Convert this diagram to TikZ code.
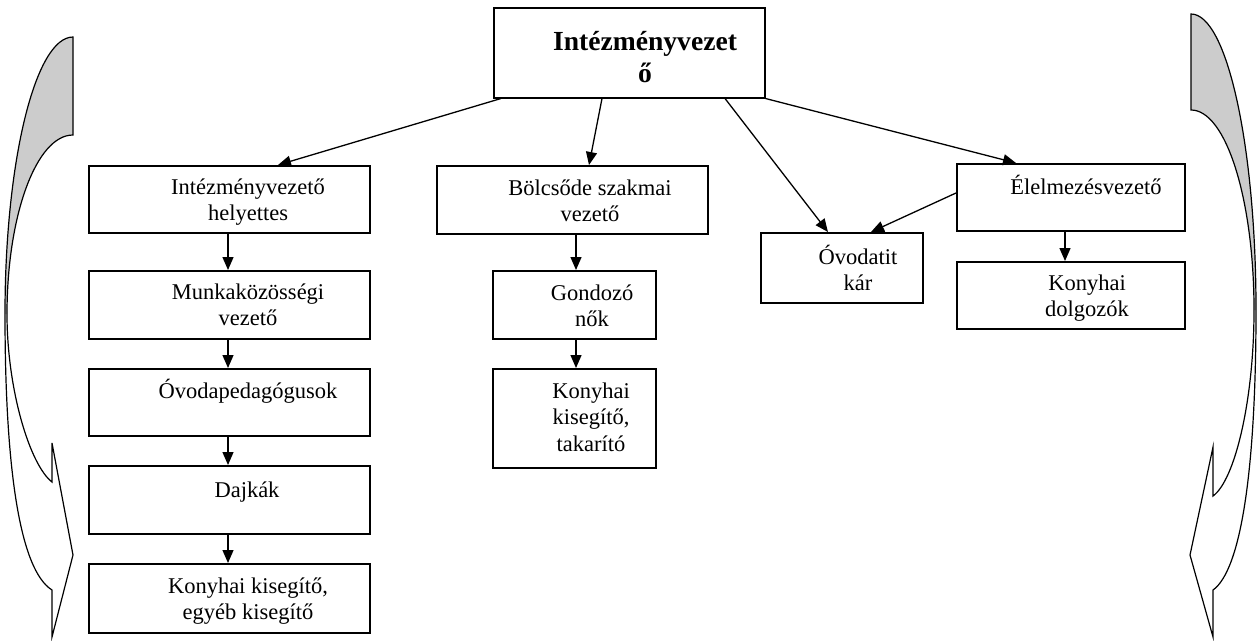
\documentclass[tikz,border=0pt]{standalone}
\usepackage{fontspec}
\setmainfont{Liberation Serif}
\usetikzlibrary{arrows.meta}
\newcommand\mylines[1]{\begin{tabular}[t]{@{}c@{}}#1\end{tabular}}
\begin{document}
\begin{tikzpicture}[x=1pt,y=-1pt,
  box/.style={draw,line width=1.5pt,inner sep=0pt,anchor=north west},
  txt/.style={anchor=base,inner sep=0pt,font=\fontsize{22.5}{26.5}\selectfont},
  ttl/.style={anchor=base,inner sep=0pt,font=\fontsize{27.6}{32}\selectfont\bfseries},
  arr/.style={line width=1.3pt,-{Triangle[length=13pt,width=11pt]}},
  curv/.style={draw,line width=1.2pt,line join=miter}]
\useasboundingbox (0,0) rectangle (1257,640);

% boxes
\node[box,minimum width=271pt,minimum height=90pt] (top) at (493,7) {};
\node[box,minimum width=281pt,minimum height=67pt] (b1) at (88,165) {};
\node[box,minimum width=281pt,minimum height=68pt] (b2) at (88,270) {};
\node[box,minimum width=281pt,minimum height=67pt] (b3) at (88,368) {};
\node[box,minimum width=281pt,minimum height=68pt] (b4) at (88,465) {};
\node[box,minimum width=281pt,minimum height=69pt] (b5) at (88,563) {};
\node[box,minimum width=271pt,minimum height=68pt] (m1) at (436,165) {};
\node[box,minimum width=163pt,minimum height=68pt] (m2) at (492,270) {};
\node[box,minimum width=163pt,minimum height=99pt] (m3) at (492,368) {};
\node[box,minimum width=162pt,minimum height=70pt] (r0) at (760,232) {};
\node[box,minimum width=228pt,minimum height=67pt] (r1) at (956,163) {};
\node[box,minimum width=228pt,minimum height=67pt] (r2) at (956,261) {};

% texts
\node[ttl] (ttop) at (645,50) {\begin{tabular}[t]{@{}c@{}}Intézményvezet\\ő\end{tabular}};
\node[txt] (tb1) at (248,194) {\mylines{Intézményvezető\\helyettes}};
\node[txt] (tb2) at (248,299) {\mylines{Munkaközösségi\\vezető}};
\node[txt] (tb3) at (248,398) {Óvodapedagógusok};
\node[txt] (tb4) at (247,497) {Dajkák};
\node[txt] (tb5) at (248,593) {\mylines{Konyhai kisegítő,\\egyéb kisegítő}};
\node[txt] (tm1) at (590,195) {\mylines{Bölcsőde szakmai\\vezető}};
\node[txt] (tm2) at (592,300) {\mylines{Gondozó\\nők}};
\node[txt] (tm3) at (591,398) {\mylines{Konyhai\\kisegítő,\\takarító}};
\node[txt] (tr0) at (858,264) {\mylines{Óvodatit\\kár}};
\node[txt] (tr1) at (1086,194) {Élelmezésvezető};
\node[txt] (tr2) at (1087,290) {\mylines{Konyhai\\dolgozók}};

% connectors
\draw[arr] ([xshift=8pt]top.south west) -- ([xshift=190pt]b1.north west);
\draw[arr] ([xshift=109pt]top.south west) -- ([xshift=153pt]m1.north west);
\draw[arr] ([xshift=232pt]top.south west) -- ([xshift=68pt]r0.north west);
\draw[arr] (top.south east) -- ([xshift=60pt]r1.north west);
\draw[arr] ([yshift=-30pt]r1.north west) -- ([xshift=111pt]r0.north west);
\draw[arr] ([xshift=140pt]b1.south west) -- ([xshift=140pt]b2.north west);
\draw[arr] ([xshift=140pt]b2.south west) -- ([xshift=140pt]b3.north west);
\draw[arr] ([xshift=140pt]b3.south west) -- ([xshift=140pt]b4.north west);
\draw[arr] ([xshift=140pt]b4.south west) -- ([xshift=140pt]b5.north west);
\draw[arr] ([xshift=140pt]m1.south west) -- ([xshift=84pt]m2.north west);
\draw[arr] ([xshift=84pt]m2.south west) -- ([xshift=84pt]m3.north west);
\draw[arr] ([xshift=109pt]r1.south west) -- ([xshift=109pt]r2.north west);

% left curved arrow
\fill[gray!40] (73,37) .. controls (35.4,37) and (5,161) .. (5,314)
  -- (7,314) .. controls (7,215) and (36.5,135) .. (73,135) -- cycle;
\path[curv] (73,37) .. controls (35.4,37) and (5,161) .. (5,314)
  .. controls (5,470) and (20,570) .. (52,590)
  -- (52,637) -- (73,555) -- (52,443) -- (52,482)
  .. controls (30,465) and (7,390) .. (7,314)
  .. controls (7,215) and (36.5,135) .. (73,135) -- cycle;

% right curved arrow
\fill[gray!40] (1191,14) .. controls (1227,14) and (1256,146.5) .. (1256,310)
  -- (1254,310) .. controls (1254,199.5) and (1226,110) .. (1191,110) -- cycle;
\path[curv] (1191,14) .. controls (1227,14) and (1256,146.5) .. (1256,310)
  .. controls (1256,470) and (1241,570) .. (1213,590)
  -- (1213,637) -- (1190,555) -- (1213,447) -- (1213,496)
  .. controls (1235,480) and (1254,400) .. (1254,310)
  .. controls (1254,199.5) and (1226,110) .. (1191,110) -- cycle;
\end{tikzpicture}
\end{document}
